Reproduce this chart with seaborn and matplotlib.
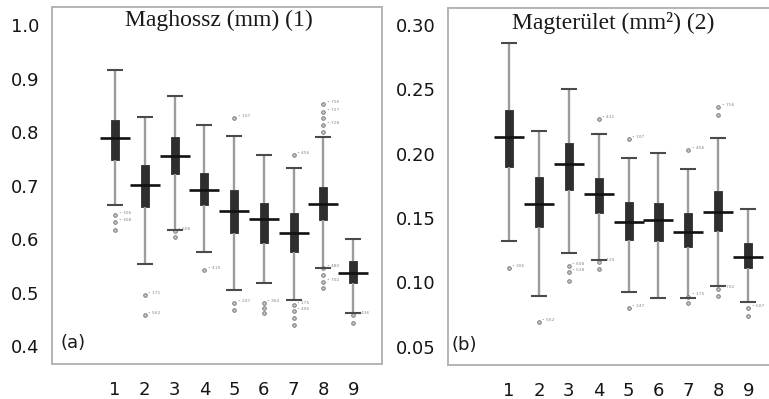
import numpy as np
import pandas as pd
import matplotlib
matplotlib.use("Agg")
import matplotlib.pyplot as plt
import seaborn as sns

groups = ["1", "2", "3", "4", "5", "6", "7", "8", "9"]

# Panel (a): Maghossz (mm)
a_title = "Maghossz (mm) (1)"
a_whislo = [0.664, 0.553, 0.617, 0.576, 0.505, 0.517, 0.487, 0.546, 0.462]
a_q1 = [0.748, 0.660, 0.721, 0.664, 0.611, 0.593, 0.576, 0.636, 0.518]
a_med = [0.789, 0.702, 0.756, 0.692, 0.653, 0.637, 0.612, 0.665, 0.536]
a_q3 = [0.822, 0.738, 0.791, 0.723, 0.692, 0.668, 0.648, 0.697, 0.559]
a_whishi = [0.917, 0.829, 0.868, 0.813, 0.793, 0.757, 0.732, 0.791, 0.600]
a_fliers = [[0.645, 0.632, 0.617], [0.495, 0.458], [0.615, 0.604], [0.542],
            [0.826, 0.481, 0.467], [0.480, 0.471, 0.462],
            [0.758, 0.477, 0.466, 0.452, 0.439],
            [0.852, 0.838, 0.826, 0.813, 0.801, 0.545, 0.533, 0.520, 0.508],
            [0.458, 0.444]]
a_flier_labels = [["306", "308", ""], ["171", "562"], ["608", ""], ["419"],
                  ["107", "247", ""], ["364", "", ""],
                  ["456", "175", "406", "", ""],
                  ["756", "727", "", "728", "", "480", "", "702", ""],
                  ["436", ""]]
a_yticks = [0.4, 0.5, 0.6, 0.7, 0.8, 0.9, 1.0]
a_yticklabels = ["0.4", "0.5", "0.6", "0.7", "0.8", "0.9", "1.0"]

# Panel (b): Magterület (mm²)
b_title = "Magterület (mm²) (2)"
b_whislo = [0.1318, 0.0898, 0.1227, 0.1175, 0.0929, 0.0878, 0.0878, 0.0968, 0.0847]
b_q1 = [0.1900, 0.1429, 0.1719, 0.1538, 0.1330, 0.1318, 0.1274, 0.1403, 0.1111]
b_med = [0.2133, 0.1610, 0.1920, 0.1688, 0.1470, 0.1486, 0.1395, 0.1545, 0.1201]
b_q3 = [0.2340, 0.1817, 0.2086, 0.1810, 0.1628, 0.1616, 0.1538, 0.1713, 0.1305]
b_whishi = [0.2863, 0.2177, 0.2500, 0.2151, 0.1970, 0.2004, 0.1880, 0.2120, 0.1569]
b_fliers = [[0.1111], [0.0689], [0.113, 0.108, 0.101], [0.2268, 0.1155, 0.1103],
            [0.2112, 0.080], [], [0.2029, 0.089, 0.0839],
            [0.236, 0.230, 0.095, 0.0891], [0.080, 0.0741]]
b_flier_labels = [["306"], ["562"], ["608", "528", ""], ["411", "419", ""],
                  ["107", "247"], [], ["456", "175", ""],
                  ["756", "", "702", ""], ["607", ""]]
b_yticks = [0.05, 0.10, 0.15, 0.20, 0.25, 0.30]
b_yticklabels = ["0.05", "0.10", "0.15", "0.20", "0.25", "0.30"]

sns.set_theme(style="white")
plt.rcParams["font.family"] = ["DejaVu Sans"]

W, H = 769, 399
fig = plt.figure(figsize=(W / 100, H / 100), dpi=100)


def px_axes(left, top, right, bottom):
    return fig.add_axes([left / W, 1 - bottom / H, (right - left) / W, (bottom - top) / H])


def draw_panel(ax, title, tag, whislo, q1, med, q3, whishi, fliers, flabels,
               yticks, yticklabels, ylim, xlim, extra_tick, title_pos, tag_pos):
    rows = []
    for g, lo, a, m, b, hi in zip(groups, whislo, q1, med, q3, whishi):
        for v in (lo, a, m, b, hi):
            rows.append({"group": g, "value": v})
    df = pd.DataFrame(rows)
    sns.boxplot(data=df, x="group", y="value", order=groups, ax=ax,
                whis=(0, 100), showfliers=False, width=0.27,
                color="#2e2e2e", saturation=1, linecolor="#2e2e2e", linewidth=0.6,
                whiskerprops={"color": "#9c9c9c", "linewidth": 1.7},
                capprops={"linewidth": 0}, medianprops={"linewidth": 0})
    caps = pd.DataFrame({"group": groups * 2, "value": list(whislo) + list(whishi)})
    sns.stripplot(data=caps, x="group", y="value", order=groups, ax=ax,
                  jitter=False, marker="_", size=11, linewidth=1.5,
                  color="#4a4a4a", zorder=4)
    meds = pd.DataFrame({"group": groups, "value": med})
    sns.stripplot(data=meds, x="group", y="value", order=groups, ax=ax,
                  jitter=False, marker="_", size=21, linewidth=1.9,
                  color="#111111", zorder=5)
    frows = []
    for g, fl in zip(groups, fliers):
        for v in fl:
            frows.append({"group": g, "value": v})
    fdf = pd.DataFrame(frows)
    sns.stripplot(data=fdf, x="group", y="value", order=groups, ax=ax,
                  jitter=False, marker="o", size=2.6, linewidth=0.6,
                  color="#c4c4c4", edgecolor="#6e6e6e", zorder=3)
    for i, (fl, lb) in enumerate(zip(fliers, flabels)):
        for v, t in zip(fl, lb):
            if t:
                ax.annotate("• " + t, (i, v), xytext=(2.5, 1.5), textcoords="offset points",
                            fontsize=3.2, color="#8a8a8a", va="center", ha="left")

    ax.set_ylim(*ylim)
    ax.set_xlim(*xlim)
    ax.set_yticks(yticks)
    ax.set_yticklabels(yticklabels)
    if extra_tick:
        ax.set_xticks([-1] + list(range(len(groups))))
        ax.set_xticklabels([""] + groups)
    else:
        ax.set_xticks(list(range(len(groups))))
        ax.set_xticklabels(groups)
    ax.set_xlabel("")
    ax.set_ylabel("")
    ax.tick_params(axis="both", which="major", length=3, width=1.0, color="#9a9a9a",
                   labelsize=13, labelcolor="#151515", direction="out")
    ax.tick_params(axis="y", pad=6)
    ax.tick_params(axis="x", pad=9)
    for s in ax.spines.values():
        s.set_color("#b4b4b4")
        s.set_linewidth(1.4)
        s.set_visible(True)
    ax.text(title_pos[0], title_pos[1], title, transform=ax.transAxes,
            ha="center", va="center", fontsize=17, family="Liberation Serif",
            color="#1a1a1a")
    ax.text(tag_pos[0], tag_pos[1], tag, transform=ax.transAxes,
            ha="left", va="center", fontsize=13, color="#1a1a1a")


ax1 = px_axes(52, 7, 382, 364)
draw_panel(ax1, a_title, "(a)", a_whislo, a_q1, a_med, a_q3, a_whishi,
           a_fliers, a_flier_labels, a_yticks, a_yticklabels,
           ylim=(0.3664, 1.034), xlim=(-2.12, 8.97), extra_tick=False,
           title_pos=(0.506, 0.962), tag_pos=(0.025, 0.06))

ax2 = px_axes(448, 8, 776, 365)
draw_panel(ax2, b_title, "(b)", b_whislo, b_q1, b_med, b_q3, b_whishi,
           b_fliers, b_flier_labels, b_yticks, b_yticklabels,
           ylim=(0.0358, 0.3132), xlim=(-2.04, 8.93), extra_tick=True,
           title_pos=(0.505, 0.958), tag_pos=(0.01, 0.056))

fig.savefig("out.png", dpi=100)
